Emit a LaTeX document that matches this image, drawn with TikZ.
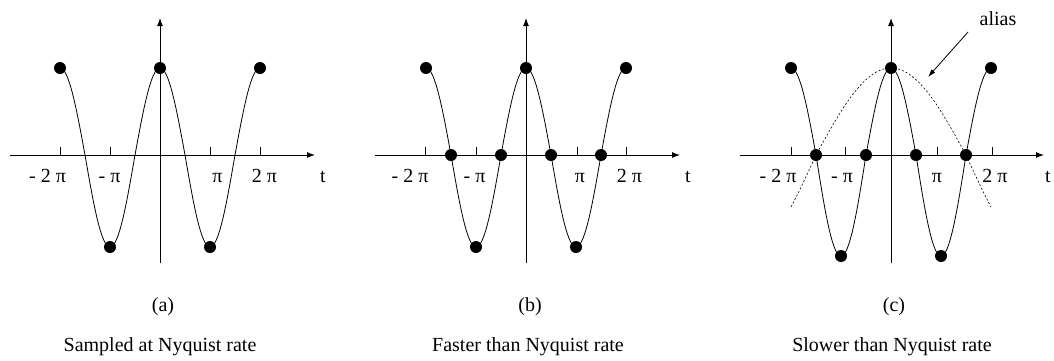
\documentclass[tikz,border=0pt]{standalone}
\usepackage{fontspec}
\setmainfont{Liberation Serif}
\usetikzlibrary{arrows.meta}
\begin{document}
\begin{tikzpicture}[x=1pt,y=-1pt,
  axis/.style={line width=1pt,-{Latex[length=8pt,width=6pt]}},
  tickmark/.style={line width=0.8pt},
  wave/.style={line width=0.8pt},
  aliascurve/.style={line width=0.6pt,dash pattern=on 2pt off 2pt},
  sample/.style={circle,fill=black,inner sep=0pt,minimum size=12pt},
  lbl/.style={font=\fontsize{20}{24}\selectfont,anchor=base,inner sep=0pt},
]
\useasboundingbox (0,0) rectangle (1054,360);

% ---------------- panel (a) ----------------
\coordinate (a-l) at (10,155); \coordinate (a-r) at (315,155);
\coordinate (a-b) at (160,263); \coordinate (a-t) at (160,18);
\draw[axis] (a-l) -- (a-r);
\draw[axis] (a-b) -- (a-t);
\foreach \tx in {60,110,210,260} \draw[tickmark] (\tx,155) -- (\tx,147);
\draw[wave] plot[domain=60:260,samples=201,smooth]
  (\x,{155-((cos(3.6*(\x-160))>0)?87:92)*cos(3.6*(\x-160))});
\foreach \k in {-2,...,2}
  \node[sample] (a-s\k) at ({160+50*\k},{155-((cos(180*\k)>0)?87:92)*cos(180*\k)}) {};
\node[lbl] (a-m2) at (47.5,182) {- 2 π};
\node[lbl] (a-m1) at (109.5,182) {- π};
\node[lbl] (a-p1) at (217.5,182) {π};
\node[lbl] (a-p2) at (264.5,182) {2 π};
\node[lbl] (a-tl) at (323,182) {t};
\node[lbl] (a-cap) at (163,311) {(a)};
\node[lbl] (a-desc) at (160,351) {Sampled at Nyquist rate};

% ---------------- panel (b) ----------------
\coordinate (b-l) at (375,155); \coordinate (b-r) at (680,155);
\coordinate (b-b) at (526,263); \coordinate (b-t) at (526,18);
\draw[axis] (b-l) -- (b-r);
\draw[axis] (b-b) -- (b-t);
\foreach \tx in {425,476,577,626} \draw[tickmark] (\tx,155) -- (\tx,147);
\draw[wave] plot[domain=426:626,samples=201,smooth]
  (\x,{155-((cos(3.6*(\x-526))>0)?87:92)*cos(3.6*(\x-526))});
\foreach \k in {-4,...,4}
  \node[sample] (b-s\k) at ({526+25*\k},{155-((cos(90*\k)>0.001)?87:92)*cos(90*\k)}) {};
\node[lbl] (b-m2) at (410,182) {- 2 π};
\node[lbl] (b-m1) at (474.5,182) {- π};
\node[lbl] (b-p1) at (580,182) {π};
\node[lbl] (b-p2) at (629.5,182) {2 π};
\node[lbl] (b-tl) at (688,182) {t};
\node[lbl] (b-cap) at (530,311) {(b)};
\node[lbl] (b-desc) at (528,351) {Faster than Nyquist rate};

% ---------------- panel (c) ----------------
\coordinate (c-l) at (740,155); \coordinate (c-r) at (1044,155);
\coordinate (c-b) at (891,263); \coordinate (c-t) at (891,18);
\draw[axis] (c-l) -- (c-r);
\draw[axis] (c-b) -- (c-t);
\foreach \tx in {791,845,937,992} \draw[tickmark] (\tx,155) -- (\tx,147);
\draw[aliascurve] plot[domain=791:991,samples=201,smooth]
  (\x,{155-((cos(1.2*(\x-891))>0)?87:104)*cos(1.2*(\x-891))});
\draw[wave] plot[domain=791:991,samples=201,smooth]
  (\x,{155-((cos(3.6*(\x-891))>0)?87:101)*cos(3.6*(\x-891))});
\foreach \k in {-4,...,4}
  \node[sample] (c-s\k) at ({891+25*\k},{155-((cos(90*\k)>0.001)?87:101)*cos(90*\k)}) {};
\node[lbl] (c-m2) at (778,182) {- 2 π};
\node[lbl] (c-m1) at (842,182) {- π};
\node[lbl] (c-p1) at (937,182) {π};
\node[lbl] (c-p2) at (995,182) {2 π};
\node[lbl] (c-tl) at (1048,182) {t};
\node[lbl] (c-cap) at (894,311) {(c)};
\node[lbl] (c-desc) at (892,351) {Slower than Nyquist rate};

\node[lbl] (alias) at (998,25) {alias};
\coordinate (al-s) at (968,32);
\coordinate (al-e) at (928,77);
\draw[line width=0.8pt,-{Latex[length=8pt,width=5pt]}] (al-s) -- (al-e);
\end{tikzpicture}
\end{document}
